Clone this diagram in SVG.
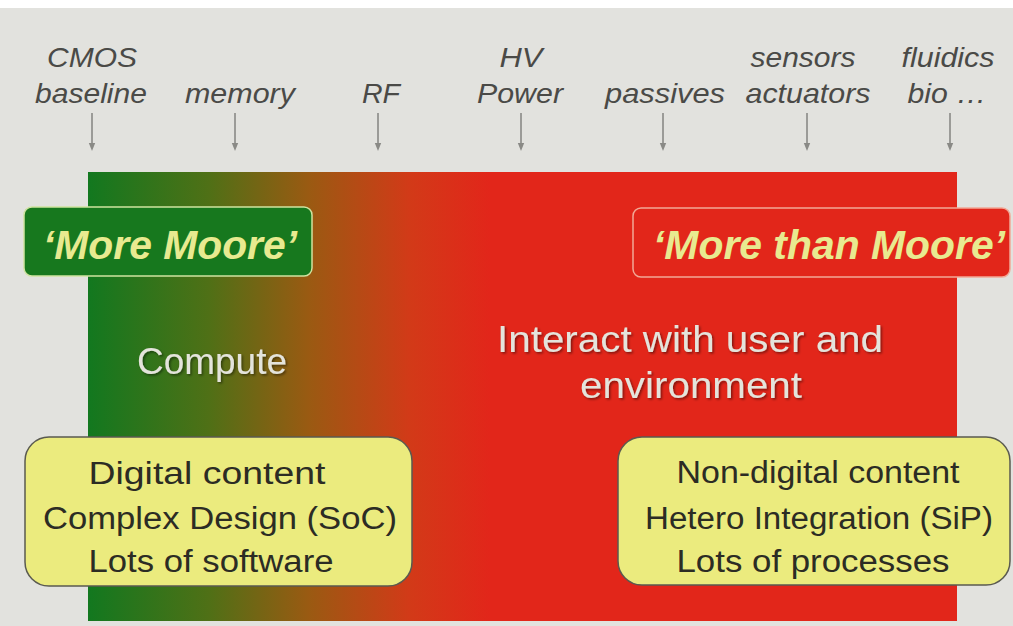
<svg xmlns="http://www.w3.org/2000/svg" width="1013" height="626" viewBox="0 0 1013 626">
  <defs>
    <linearGradient id="band" gradientUnits="userSpaceOnUse" x1="88" y1="0" x2="490" y2="0">
      <stop offset="0" stop-color="#12781f"/>
      <stop offset="0.3" stop-color="#4f7016"/>
      <stop offset="0.55" stop-color="#9a5a12"/>
      <stop offset="0.8" stop-color="#d23a18"/>
      <stop offset="1" stop-color="#e2261a"/>
    </linearGradient>
    <marker id="arr" viewBox="0 0 10 10" refX="5" refY="5" markerWidth="5" markerHeight="5" orient="auto" markerUnits="strokeWidth">
      <path d="M0,1 L10,5 L0,9 Z" fill="#8a8a86"/>
    </marker>
    <filter id="sh" x="-10%" y="-20%" width="120%" height="150%">
      <feDropShadow dx="1.5" dy="1.5" stdDeviation="1" flood-color="#000" flood-opacity="0.45"/>
    </filter>
    <style>
      .lbl { font-family: "Liberation Sans", Arial, sans-serif; font-style: italic; font-size: 28px; fill: #4a4a47; text-anchor: middle; }
      .tag { font-family: "Liberation Sans", Arial, sans-serif; font-style: italic; font-weight: bold; font-size: 40px; fill: #e8ea90; }
      .big { font-family: "Liberation Sans", Arial, sans-serif; font-size: 37px; fill: #e4e4dc; text-anchor: middle; }
      .box { font-family: "Liberation Sans", Arial, sans-serif; font-size: 31px; fill: #2c2c24; text-anchor: middle; }
      .yel { fill: #ebeb7e; stroke: #5a5a50; stroke-width: 1.5; }
      .conn line { stroke: #8a8a86; stroke-width: 1.6; marker-end: url(#arr); }
    </style>
  </defs>

  <rect x="0" y="0" width="1013" height="626" fill="#e2e2de"/>
  <rect x="0" y="0" width="1013" height="8" fill="#ffffff"/>

  <g id="band-rect">
    <rect x="88" y="172" width="869" height="449" fill="url(#band)"/>
  </g>

  <g id="labels">
    <text class="lbl" x="92" y="67" textLength="90" lengthAdjust="spacingAndGlyphs">CMOS</text>
    <text class="lbl" x="91" y="103" textLength="112" lengthAdjust="spacingAndGlyphs">baseline</text>
    <text class="lbl" x="240" y="103" textLength="110" lengthAdjust="spacingAndGlyphs">memory</text>
    <text class="lbl" x="381" y="103" textLength="38" lengthAdjust="spacingAndGlyphs">RF</text>
    <text class="lbl" x="521" y="67" textLength="43" lengthAdjust="spacingAndGlyphs">HV</text>
    <text class="lbl" x="520" y="103" textLength="86" lengthAdjust="spacingAndGlyphs">Power</text>
    <text class="lbl" x="665" y="103" textLength="120" lengthAdjust="spacingAndGlyphs">passives</text>
    <text class="lbl" x="803" y="67" textLength="105" lengthAdjust="spacingAndGlyphs">sensors</text>
    <text class="lbl" x="808" y="103" textLength="125" lengthAdjust="spacingAndGlyphs">actuators</text>
    <text class="lbl" x="948" y="67" textLength="93" lengthAdjust="spacingAndGlyphs">fluidics</text>
    <text class="lbl" x="947" y="103" textLength="79" lengthAdjust="spacingAndGlyphs">bio …</text>
  </g>

  <g id="connectors" class="conn">
    <line x1="92" y1="113" x2="92" y2="147"/>
    <line x1="235" y1="113" x2="235" y2="147"/>
    <line x1="378" y1="113" x2="378" y2="147"/>
    <line x1="521" y1="113" x2="521" y2="147"/>
    <line x1="663" y1="113" x2="663" y2="147"/>
    <line x1="807" y1="113" x2="807" y2="147"/>
    <line x1="950" y1="113" x2="950" y2="147"/>
  </g>

  <g id="more-moore">
    <rect x="24" y="207" width="288" height="69" rx="8" fill="#17781e" stroke="#cfe3a0" stroke-width="1.5"/>
    <text class="tag" x="43" y="259" textLength="254" lengthAdjust="spacingAndGlyphs">‘More Moore’</text>
  </g>

  <g id="more-than-moore">
    <rect x="633" y="208" width="377" height="69" rx="8" fill="#e2261a" stroke="#f2a896" stroke-width="1.5"/>
    <text class="tag" x="653" y="259" textLength="352" lengthAdjust="spacingAndGlyphs">‘More than Moore’</text>
  </g>

  <g id="compute">
    <text class="big" x="212" y="374" textLength="150" lengthAdjust="spacingAndGlyphs" filter="url(#sh)">Compute</text>
  </g>

  <g id="interact">
    <text class="big" x="690" y="352" textLength="386" lengthAdjust="spacingAndGlyphs" filter="url(#sh)">Interact with user and</text>
    <text class="big" x="691" y="398" textLength="222" lengthAdjust="spacingAndGlyphs" filter="url(#sh)">environment</text>
  </g>

  <g id="digital-box">
    <rect class="yel" x="25" y="437" width="387" height="149" rx="24"/>
    <text class="box" x="207" y="484" textLength="237" lengthAdjust="spacingAndGlyphs">Digital content</text>
    <text class="box" x="220" y="529" textLength="354" lengthAdjust="spacingAndGlyphs">Complex Design (SoC)</text>
    <text class="box" x="211" y="572" textLength="245" lengthAdjust="spacingAndGlyphs">Lots of software</text>
  </g>

  <g id="nondigital-box">
    <rect class="yel" x="618" y="437" width="392" height="148" rx="24"/>
    <text class="box" x="818" y="483" textLength="283" lengthAdjust="spacingAndGlyphs">Non-digital content</text>
    <text class="box" x="819" y="529" textLength="348" lengthAdjust="spacingAndGlyphs">Hetero Integration (SiP)</text>
    <text class="box" x="813" y="572" textLength="273" lengthAdjust="spacingAndGlyphs">Lots of processes</text>
  </g>
</svg>
